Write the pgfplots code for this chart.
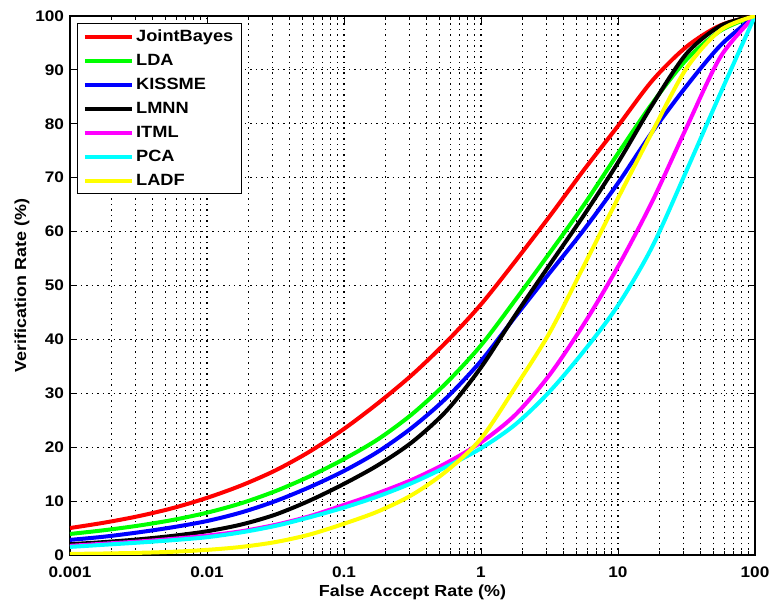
\documentclass[border=0pt]{standalone}
\usepackage{fontspec}
\setmainfont{Liberation Sans}[FakeStretch=1.12]
\usepackage{pgfplots}
\usepackage{pgfplotstable}
\pgfplotsset{compat=1.18}
\definecolor{mred}{rgb}{1,0,0}
\definecolor{mgreen}{rgb}{0,1,0}
\definecolor{mblue}{rgb}{0,0,1}
\definecolor{mmag}{rgb}{1,0,1}
\definecolor{mcyan}{rgb}{0,1,1}
\definecolor{myellow}{rgb}{1,1,0}
\pgfplotstableread{
x         jb    lda   kis   lmnn  itml  pca   ladf
0.001     5.0   3.9   2.8   2.0   1.7   1.5   0.2
0.0017783 6.0   4.6   3.4   2.4   2.1   1.9   0.28
0.0031623 7.2   5.45  4.2   2.9   2.5   2.3   0.4
0.0056234 8.7   6.5   5.15  3.55  3.0   2.75  0.6
0.01      10.6  7.85  6.3   4.4   3.6   3.3   0.95
0.017783  12.9  9.6   7.9   5.65  4.4   4.2   1.5
0.031623  15.7  11.85 10.0  7.5   5.6   5.4   2.4
0.056234  19.2  14.6  12.6  10.1  7.2   7.0   3.8
0.1       23.4  17.8  15.6  13.2  9.3   8.8   5.8
0.17783   28.2  21.5  19.2  16.7  11.5  10.9  8.1
0.31623   33.5  26.2  23.7  21.0  14.0  13.4  11.2
0.56234   39.6  32.0  29.2  26.8  17.1  16.4  15.6
1         46.5  38.9  36.0  34.8  20.9  19.8  21.6
1.7783    54.5  47.3  44.2  44.5  26.0  24.2  31.1
3.1623    62.8  56.0  52.3  53.8  33.4  30.3  41.2
5.6234    71.4  64.9  60.3  63.0  42.8  37.8  53.6
10        79.6  74.5  69.0  72.8  53.5  46.3  66.2
17.783    88.0  83.8  78.5  83.5  65.6  57.2  78.5
31.623    94.3  91.9  87.0  93.0  79.3  71.3  90.3
56.234    98.3  97.3  94.6  98.2  92.5  85.8  97.4
100       100   100   100   100   100   100   100
}\roc
\begin{document}
\begin{tikzpicture}
\useasboundingbox (-52.5pt,-36pt) rectangle (526.5pt,416.25pt);
\begin{axis}[
  at={(0pt,0pt)}, anchor=south west,
  scale only axis, width=513.75pt, height=404.25pt,
  xmode=log, xmin=0.001, xmax=100, ymin=0, ymax=100,
  xtick={0.001,0.01,0.1,1,10,100},
  xticklabels={0.001,0.01,0.1,1,10,100},
  ytick={0,10,...,100},
  minor xtick={0.002,0.003,0.004,0.005,0.006,0.007,0.008,0.009,0.02,0.03,0.04,0.05,0.06,0.07,0.08,0.09,0.2,0.3,0.4,0.5,0.6,0.7,0.8,0.9,2,3,4,5,6,7,8,9,20,30,40,50,60,70,80,90},
  xmajorgrids, xminorgrids, ymajorgrids,
  grid style={black, line width=0.8pt, dash pattern=on 1.1pt off 3pt},
  minor grid style={black, line width=0.8pt, dash pattern=on 1.1pt off 3pt},
  tick align=inside, tick pos=both,
  major tick length=5pt, minor tick length=3pt,
  tick style={black, line width=0.6pt},
  axis line style={black, line width=0.8pt},
  /pgf/number format/assume math mode=true,
  ticklabel style={font=\fontsize{11.5}{13}\selectfont\bfseries},
  xticklabel style={yshift=-5.5pt},
  yticklabel style={xshift=-1pt},
  xlabel={False Accept Rate (\%)},
  ylabel={Verification Rate (\%)},
  label style={font=\fontsize{12}{14}\selectfont\bfseries},
  xlabel style={at={(axis description cs:0.5,-0.0700)}, anchor=center},
  ylabel style={at={(axis description cs:-0.070,0.5)}, anchor=center},
  legend style={at={(axis description cs:0.0102,0.9876)}, anchor=north west,
    draw=black, line width=0.8pt, fill=white,
    font=\fontsize{12.2}{14.6}\selectfont\bfseries, row sep=4pt,
    inner xsep=4pt, inner ysep=3pt},
  legend cell align=left,
  legend image code/.code={\draw[#1, line width=3pt] (0pt,0pt) -- (35pt,0pt);},
  every axis plot/.append style={line width=3pt, smooth, tension=0.5},
]
\addplot[mred] table[x=x, y=jb] {\roc};
\addlegendentry{JointBayes}
\addplot[mgreen] table[x=x, y=lda] {\roc};
\addlegendentry{LDA}
\addplot[mblue] table[x=x, y=kis] {\roc};
\addlegendentry{KISSME}
\addplot[black] table[x=x, y=lmnn] {\roc};
\addlegendentry{LMNN}
\addplot[mmag] table[x=x, y=itml] {\roc};
\addlegendentry{ITML}
\addplot[mcyan] table[x=x, y=pca] {\roc};
\addlegendentry{PCA}
\addplot[myellow] table[x=x, y=ladf] {\roc};
\addlegendentry{LADF}
\end{axis}
\end{tikzpicture}
\end{document}
